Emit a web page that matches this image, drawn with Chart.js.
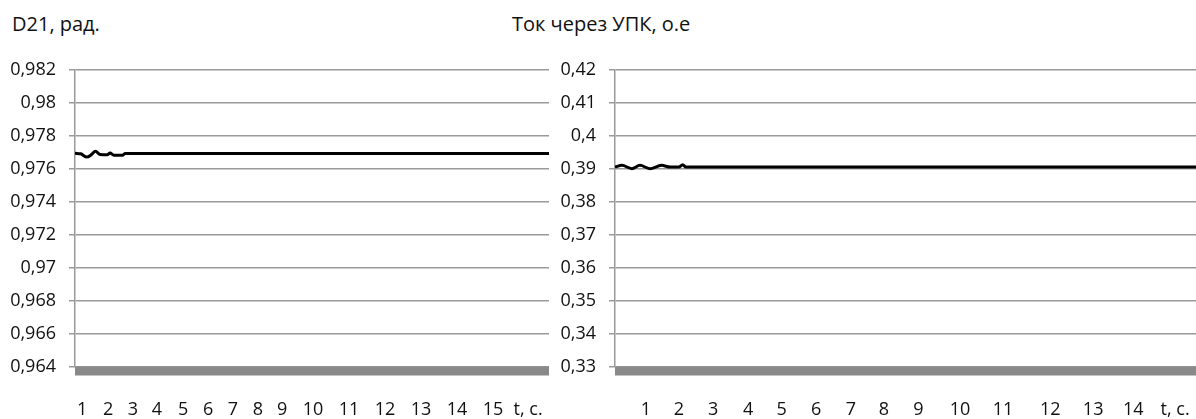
<!DOCTYPE html>
<html>
<head>
<meta charset="utf-8">
<script src="https://cdn.jsdelivr.net/npm/chart.js@4.4.1/dist/chart.umd.min.js"></script>
<style>
  body { margin: 0; background: #fff; width: 1196px; height: 419px; overflow: hidden; position: relative; font-family: 'Open Sans', sans-serif; }
  .box { position: absolute; top: 0; }
  .ttl { position: absolute; top: 14px; font-size: 20px; line-height: 20px; color: #111; white-space: nowrap; }
</style>
</head>
<body>
<div class="ttl" style="left:12px">D21, рад.</div>
<div class="ttl" style="left:512px">Ток через УПК, о.е</div>
<div class="box" style="left:0"><canvas id="c1" width="552" height="419"></canvas></div>
<div class="box" style="left:500px"><canvas id="c2" width="696" height="419"></canvas></div>
<script>
// D21 angle, x = position along the record (% of plot width)
const d21Labels = ['1', '2', '3', '4', '5', '6', '7', '8', '9', '10', '11', '12', '13', '14', '15', 't, с.'];
const d21LabelPos = [1.5, 7.0, 12.2, 17.3, 22.8, 28.1, 33.3, 38.6, 43.7, 50.2, 57.8, 65.4, 73.0, 80.6, 88.2, 95.6];
const d21T = [0, 1.2, 2.5, 3.5, 4.3, 5.3, 6.8, 7.4, 8.2, 10.0, 10.6, 100];
const d21V = [0.97695, 0.97692, 0.97672, 0.97688, 0.97708, 0.97688, 0.97686, 0.97697, 0.97684, 0.97684, 0.97694, 0.97694];

// current through the УПК
const upkLabels = ['1', '2', '3', '4', '5', '6', '7', '8', '9', '10', '11', '12', '13', '14', 't, с.'];
const upkLabelPos = [5.3, 11.0, 16.9, 22.9, 28.7, 34.6, 40.6, 46.3, 52.2, 59.4, 66.8, 74.9, 82.3, 89.2, 96.4];
const upkT = [0, 1.2, 2.9, 4.3, 6.0, 8.0, 9.5, 11.0, 11.65, 12.2, 100];
const upkV = [0.3906, 0.3911, 0.3901, 0.3911, 0.3901, 0.3911, 0.3906, 0.3906, 0.3913, 0.3906, 0.3906];

const tickFont = { family: 'Open Sans', size: 18 };
const gridColor = '#9a9a9a';

// thick grey bar under the plot in place of the x axis line
const axisBar = {
  id: 'axisBar',
  afterDatasetsDraw(chart) {
    const a = chart.chartArea, ctx = chart.ctx;
    ctx.save();
    ctx.fillStyle = '#898989';
    ctx.fillRect(a.left, a.bottom - 0.5, a.right - a.left, 9);
    ctx.restore();
  }
};

function fmt(v, d) {
  return String(parseFloat(v.toFixed(d))).replace('.', ',');
}

function makeChart(id, t, v, labels, pos, yMin, yMax, step, dec, yWidth, padRight) {
  new Chart(document.getElementById(id), {
    type: 'line',
    data: {
      datasets: [{
        data: t.map((x, i) => ({ x: x, y: v[i] })),
        borderColor: '#000',
        borderWidth: 3,
        pointRadius: 0,
        tension: 0.4,
        cubicInterpolationMode: 'monotone'
      }]
    },
    options: {
      responsive: false,
      animation: false,
      layout: { padding: { top: 70, right: padRight, bottom: 0, left: 0 } },
      plugins: { legend: { display: false }, tooltip: { enabled: false } },
      scales: {
        x: {
          type: 'linear',
          min: 0,
          max: 100,
          grid: { display: false },
          border: { display: false },
          afterBuildTicks: s => { s.ticks = pos.map(p => ({ value: p })); },
          afterFit: s => { s.height = 52; s.paddingLeft = 0; s.paddingRight = 0; },
          ticks: {
            autoSkip: false,
            maxRotation: 0,
            padding: 24,
            color: '#111',
            font: tickFont,
            callback: (val, i) => labels[i]
          }
        },
        y: {
          min: yMin,
          max: yMax,
          grid: { color: gridColor, lineWidth: 1.5, tickLength: 6 },
          border: { color: gridColor, width: 1.5 },
          afterFit: s => { s.width = yWidth; },
          ticks: {
            stepSize: step,
            padding: 13,
            color: '#111',
            font: tickFont,
            callback: val => fmt(val, dec)
          }
        }
      }
    },
    plugins: [axisBar]
  });
}

makeChart('c1', d21T, d21V, d21Labels, d21LabelPos, 0.964, 0.982, 0.002, 3, 75, 3);
makeChart('c2', upkT, upkV, upkLabels, upkLabelPos, 0.33, 0.42, 0.01, 2, 115, 0);
</script>
</body>
</html>
